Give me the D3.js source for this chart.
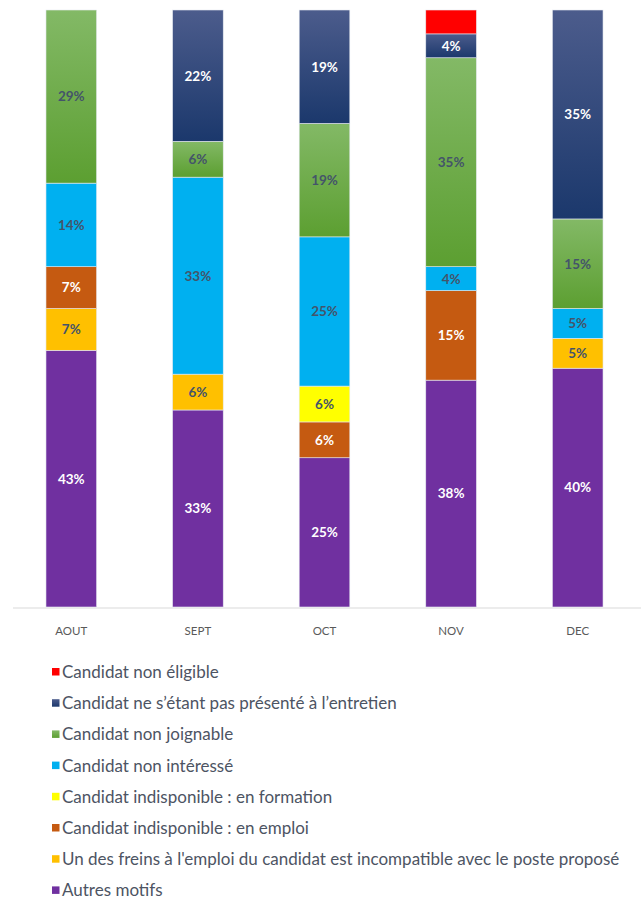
<!DOCTYPE html>
<html>
<head>
<meta charset="utf-8">
<script src="https://cdn.jsdelivr.net/npm/d3@7"></script>
<style>
  body { margin: 0; background: #fff; }
  svg { display: block; }
</style>
</head>
<body>
<svg id="mainSVG" width="644" height="901"></svg>
<script>
// months on the x axis
const months = ["AOUT", "SEPT", "OCT", "NOV", "DEC"];

// series, stacked from bottom to top
const seriesNames = [
    "Autres motifs",
    "Un des freins à l'emploi du candidat est incompatible avec le poste proposé",
    "Candidat indisponible : en emploi",
    "Candidat indisponible : en formation",
    "Candidat non intéressé",
    "Candidat non joignable",
    "Candidat ne s’étant pas présenté à l’entretien",
    "Candidat non éligible"
];

// percentages per month, same order as months
const autresMotifs   = [43, 33, 25, 38, 40];
const freins         = [7, 6, 0, 0, 5];
const enEmploi       = [7, 0, 6, 15, 0];
const enFormation    = [0, 0, 6, 0, 0];
const nonInteresse   = [14, 33, 25, 4, 5];
const nonJoignable   = [29, 6, 19, 35, 15];
const pasPresente    = [0, 22, 19, 4, 35];
const nonEligible    = [0, 0, 0, 4, 0];

const seriesValues = [autresMotifs, freins, enEmploi, enFormation, nonInteresse, nonJoignable, pasPresente, nonEligible];

// colours: [top, bottom] of the fill, and label colour
const colors = [
    ["#7030A0", "#7030A0"],
    ["#FFC000", "#FFC000"],
    ["#C55A11", "#C55A11"],
    ["#FFFF00", "#FFFF00"],
    ["#00B0F0", "#00B0F0"],
    ["#83B966", "#5C9F31"],
    ["#4C5C8C", "#1B386C"],
    ["#FF0000", "#FF0000"]
];
const labelColors = ["#fff", "#44546A", "#fff", "#44546A", "#44546A", "#44546A", "#fff", "none"];

// legend order, top to bottom
const legendOrder = [7, 6, 5, 4, 3, 2, 1, 0];

const svg = d3.select("#mainSVG");
const defs = svg.append("defs");

colors.forEach(function (c, i) {
    const g = defs.append("linearGradient")
        .attr("id", "grad" + i)
        .attr("x1", 0).attr("y1", 0).attr("x2", 0).attr("y2", 1);
    g.append("stop").attr("offset", "0%").attr("stop-color", c[0]);
    g.append("stop").attr("offset", "100%").attr("stop-color", c[1]);
});

const rows = months.map(function (m, j) {
    const r = {month: m};
    seriesNames.forEach(function (s, i) { r[s] = seriesValues[i][j]; });
    return r;
});

const stacked = d3.stack().keys(seriesNames)(rows);

const x = d3.scaleBand()
    .domain(months)
    .range([8, 641])
    .paddingInner(0.6)
    .paddingOuter(0.3);

const y = d3.scaleLinear()
    .domain([0, 100])
    .range([607, 10]);

// axis line
svg.append("line")
    .attr("x1", 13).attr("x2", 641)
    .attr("y1", y(0) + 1).attr("y2", y(0) + 1)
    .attr("stroke", "#D9D9D9")
    .attr("stroke-width", 1);

const layer = svg.append("g").selectAll("g")
    .data(stacked)
    .join("g")
    .attr("fill", function (d, i) { return "url(#grad" + i + ")"; });

layer.selectAll("rect")
    .data(function (d) { return d.filter(function (p) { return p[1] - p[0] > 0; }); })
    .join("rect")
    .attr("x", function (d) { return x(d.data.month); })
    .attr("y", function (d) { return y(d[1]); })
    .attr("width", x.bandwidth())
    .attr("height", function (d) { return y(d[0]) - y(d[1]); })
    .attr("stroke", "#E6EAF0")
    .attr("stroke-width", 0.6);

// data labels
stacked.forEach(function (s, i) {
    if (labelColors[i] === "none") return;
    svg.append("g").selectAll("text")
        .data(s.filter(function (p) { return p[1] - p[0] > 0; }))
        .join("text")
        .attr("x", function (d) { return x(d.data.month) + x.bandwidth() / 2; })
        .attr("y", function (d) { return (y(d[0]) + y(d[1])) / 2; })
        .attr("dy", "0.36em")
        .attr("text-anchor", "middle")
        .attr("fill", labelColors[i])
        .style("font-family", "Lato, sans-serif")
        .style("font-size", "13.5px")
        .style("font-weight", "bold")
        .text(function (d) { return (d[1] - d[0]) + "%"; });
});

// month labels
svg.append("g").selectAll("text")
    .data(months)
    .join("text")
    .attr("x", function (d) { return x(d) + x.bandwidth() / 2; })
    .attr("y", 635)
    .attr("text-anchor", "middle")
    .attr("fill", "#595959")
    .style("font-family", "Lato, sans-serif")
    .style("font-size", "11.5px")
    .text(function (d) { return d; });

// legend
const legend = svg.append("g").selectAll("g")
    .data(legendOrder)
    .join("g")
    .attr("transform", function (d, k) { return "translate(52," + (672 + k * 31.2) + ")"; });

legend.append("rect")
    .attr("x", 0).attr("y", -4)
    .attr("width", 7.5).attr("height", 7.5)
    .attr("fill", function (d) { return "url(#grad" + d + ")"; });

legend.append("text")
    .attr("x", 10)
    .attr("y", 0)
    .attr("dy", "0.35em")
    .attr("fill", "#4D5463")
    .style("font-family", "Lato, sans-serif")
    .style("font-size", "17px")
    .text(function (d) { return seriesNames[d]; });
</script>
</body>
</html>
